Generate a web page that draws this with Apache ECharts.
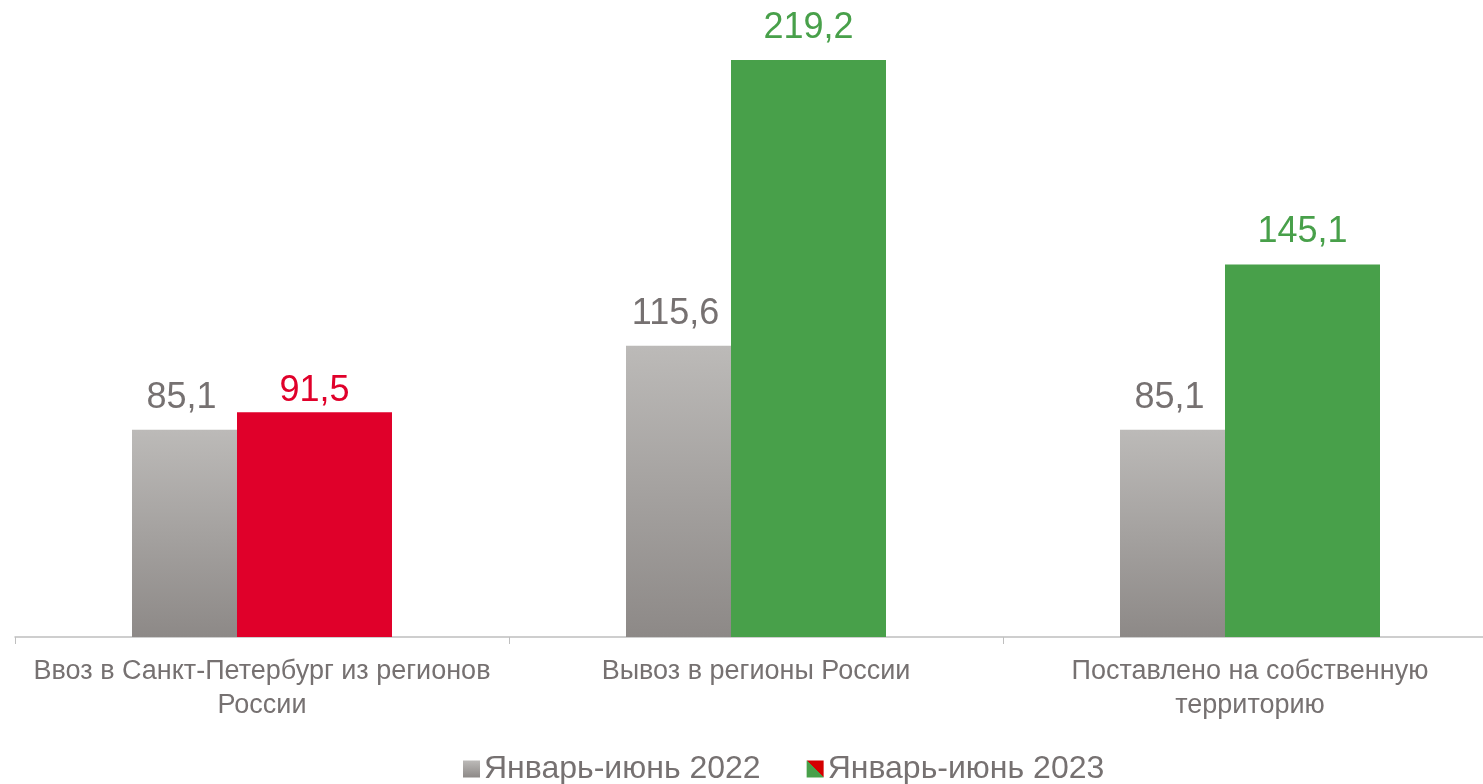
<!DOCTYPE html>
<html>
<head>
<meta charset="utf-8">
<script src="https://cdn.jsdelivr.net/npm/echarts@6/dist/echarts.min.js"></script>
<style>
html,body{margin:0;padding:0;background:#fff;overflow:hidden;}
#c{width:1497px;height:784px;}
</style>
</head>
<body>
<div id="c"></div>
<script>
var categories = ['Ввоз в Санкт-Петербург из регионов\nРоссии', 'Вывоз в регионы России', 'Поставлено на собственную\nтерриторию'];
var seriesNames = ['Январь-июнь 2022', 'Январь-июнь 2023'];
var values2022 = [85.1, 115.6, 85.1];
var values2023 = [91.5, 219.2, 145.1];
var colors2023 = ['#e0002a', '#48a04a', '#48a04a'];

var chart = echarts.init(document.getElementById('c'));
var FONT = '"Liberation Sans", Arial, sans-serif';
var grayGrad = new echarts.graphic.LinearGradient(0, 0, 0, 1, [
  {offset: 0, color: '#bcbab8'},
  {offset: 1, color: '#8d8987'}
]);
var legendSplit = new echarts.graphic.LinearGradient(0, 1, 1, 0, [
  {offset: 0, color: '#48a04a'},
  {offset: 0.5, color: '#48a04a'},
  {offset: 0.5, color: '#d40000'},
  {offset: 1, color: '#d40000'}
]);
function fmt(v){ return String(v.toFixed(1)).replace('.', ','); }

chart.setOption({
  animation: false,
  backgroundColor: '#ffffff',
  textStyle: {fontFamily: FONT},
  grid: {left: 15, right: 0, top: 57.8, bottom: 147, containLabel: false},
  legend: {
    left: 458, bottom: -6,
    itemWidth: 17, itemHeight: 17, itemGap: 46,
    icon: 'rect',
    textStyle: {fontSize: 32, color: '#767171', fontFamily: FONT, padding: [0,0,0,-1]},
    data: [
      {name: seriesNames[0], itemStyle: {color: grayGrad}},
      {name: seriesNames[1], itemStyle: {color: legendSplit}}
    ]
  },
  xAxis: {
    type: 'category',
    data: categories,
    axisLine: {show: true, lineStyle: {color: '#bfbfbf', width: 1.5}},
    axisTick: {show: true, length: 7, lineStyle: {color: '#bfbfbf'}},
    axisLabel: {interval: 0, fontSize: 27, color: '#767171', lineHeight: 34, margin: 18, fontFamily: FONT}
  },
  yAxis: {
    type: 'value', min: 10, max: 220, show: false,
    splitLine: {show: false}
  },
  series: [
    {
      name: seriesNames[0], type: 'bar', data: values2022,
      barWidth: 155, barGap: '-32.26%',
      itemStyle: {color: grayGrad},
      label: {show: true, position: 'top', distance: 14, offset: [-28, 0], fontSize: 36, color: '#767171', fontFamily: FONT,
        formatter: function(p){ return fmt(p.value); }}
    },
    {
      name: seriesNames[1], type: 'bar',
      data: values2023.map(function(v, i){
        return {value: v, itemStyle: {color: colors2023[i]}, label: {color: colors2023[i], distance: i === 0 ? 3 : 14}};
      }),
      barWidth: 155,
      label: {show: true, position: 'top', distance: 14, fontSize: 36, fontFamily: FONT,
        formatter: function(p){ return fmt(p.value); }}
    }
  ]
});
</script>
</body>
</html>
